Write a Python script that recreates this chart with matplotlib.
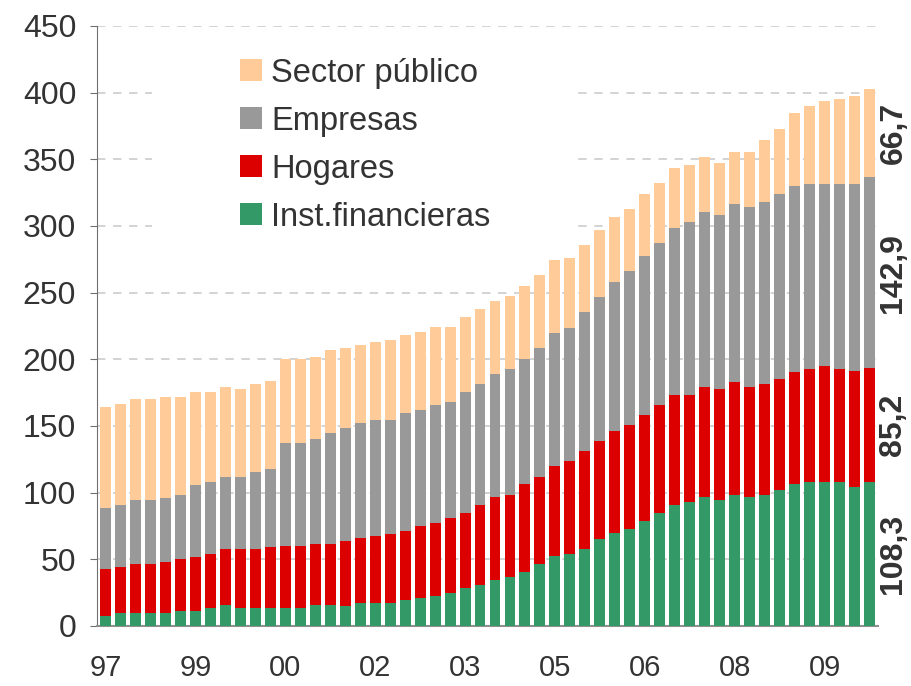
import numpy as np
import matplotlib
matplotlib.use("Agg")
import matplotlib.pyplot as plt
from matplotlib.patches import Patch, Rectangle

plt.rcParams['font.family'] = ['Liberation Sans', 'DejaVu Sans']

# quarterly stock, 52 quarters (dic-97 ... sep-10)
inst_financieras = [7.4, 9.5, 9.5, 9.5, 9.5, 11.1, 11.1, 13.4, 15.5, 13.4,
                    13.4, 13.4, 13.4, 13.4, 15.5, 15.5, 14.7, 17.1, 17.1, 17.1,
                    19.5, 20.8, 22.4, 24.5, 28.4, 30.5, 34.5, 36.6, 40.3, 46.3,
                    52.4, 53.9, 57.6, 65.0, 69.7, 72.6, 78.7, 84.7, 90.5, 92.9,
                    96.6, 94.5, 98.2, 96.6, 98.2, 101.8, 106.3, 107.9, 107.9, 107.9,
                    104.2, 108.3]
hogares = [35.2, 34.7, 36.8, 36.8, 38.4, 38.9, 40.5, 40.5, 42.1, 44.2,
           44.2, 45.8, 46.3, 46.3, 45.8, 45.8, 49.0, 48.7, 50.3, 51.8,
           51.6, 53.9, 54.7, 56.3, 56.3, 60.0, 62.1, 61.6, 66.0, 65.3,
           67.6, 69.8, 73.5, 73.7, 76.4, 77.9, 79.5, 80.8, 82.7, 80.3,
           82.6, 83.1, 84.7, 82.6, 83.1, 83.5, 84.2, 84.7, 87.1, 84.7,
           86.9, 85.2]
empresas = [45.8, 46.3, 48.2, 48.2, 47.9, 48.2, 53.9, 54.0, 54.0, 54.0,
            57.7, 58.4, 77.4, 77.4, 79.0, 83.4, 84.7, 86.3, 87.1, 85.6,
            88.6, 87.1, 88.4, 87.1, 90.8, 90.8, 92.3, 94.4, 94.0, 96.8,
            99.7, 99.7, 104.4, 107.9, 111.8, 115.5, 119.2, 121.6, 125.2, 129.7,
            131.3, 130.6, 133.4, 135.0, 136.6, 138.6, 139.5, 139.0, 136.6, 139.0,
            140.5, 142.9]
sector_publico = [75.8, 75.8, 75.8, 75.8, 75.8, 73.4, 70.0, 67.6, 67.6, 66.0,
                  66.0, 66.1, 63.4, 63.4, 61.8, 62.1, 60.0, 58.7, 58.4, 60.0,
                  58.5, 58.7, 58.7, 56.3, 56.1, 56.3, 54.8, 54.8, 54.7, 54.8,
                  54.8, 52.6, 50.3, 50.2, 48.7, 46.6, 46.5, 45.0, 45.0, 42.9,
                  41.1, 38.9, 39.2, 41.3, 46.6, 48.7, 54.7, 58.4, 62.1, 63.7,
                  65.8, 66.7]

tick_pos = [0, 6, 12, 18, 24, 30, 36, 42, 48]
tick_labels = ['97', '99', '00', '02', '03', '05', '06', '08', '09']

series = [
    ("Inst.financieras", inst_financieras, "#339966"),
    ("Hogares", hogares, "#dd0000"),
    ("Empresas", empresas, "#999999"),
    ("Sector público", sector_publico, "#ffcc99"),
]

fig = plt.figure(figsize=(9.11, 6.86), dpi=100)
ax = fig.add_axes([0.1065, 0.0875, 0.8578, 0.8746])

x = np.arange(len(inst_financieras))
bottom = np.zeros(len(x))
for name, vals, col in series:
    vals = np.array(vals)
    ax.bar(x, vals, bottom=bottom, width=0.73, color=col, zorder=3)
    # value label for the last quarter, rotated at the right of the bar
    ax.text(x[-1] + 1.6, bottom[-1] + vals[-1] / 2, f"{vals[-1]:.1f}".replace('.', ','),
            rotation=90, ha='center', va='center', fontsize=23, fontweight='bold',
            color='#333333', clip_on=False)
    bottom = bottom + vals

ax.set_xlim(-0.567, 51.6)
ax.set_ylim(0, 450)
ax.set_yticks(np.arange(0, 451, 50))
ax.set_xticks(tick_pos)
ax.set_xticklabels(tick_labels)

ax.yaxis.grid(True, color='#c8c8c8', linewidth=1.1, linestyle=(0, (5.5, 5)), zorder=0)
ax.set_axisbelow(True)

for s in ['top', 'right']:
    ax.spines[s].set_visible(False)
ax.spines['left'].set_color('#707070')
ax.spines['bottom'].set_color('#909090')
ax.spines['bottom'].set_linewidth(1.5)
ax.tick_params(axis='y', length=5, color='#707070', labelsize=23, labelcolor='#333333', pad=10)
ax.tick_params(axis='x', length=0, labelsize=21, labelcolor='#333333', pad=20)

# white box behind the legend hides the grid lines
ax.add_patch(Rectangle((0.07, 0.627), 0.54, 0.36, transform=ax.transAxes,
                       facecolor='white', edgecolor='none', zorder=1))

handles = [Patch(facecolor=c, edgecolor='none') for _, _, c in series[::-1]]
labels = [n for n, _, _ in series[::-1]]
ax.legend(handles, labels, loc='upper left', bbox_to_anchor=(0.183, 0.947),
          frameon=False, fontsize=23.5, handlelength=0.66, handleheight=0.66,
          handletextpad=0.3, labelspacing=0.52, borderpad=0, borderaxespad=0,
          labelcolor='#333333')

fig.savefig("out.png", dpi=100)
